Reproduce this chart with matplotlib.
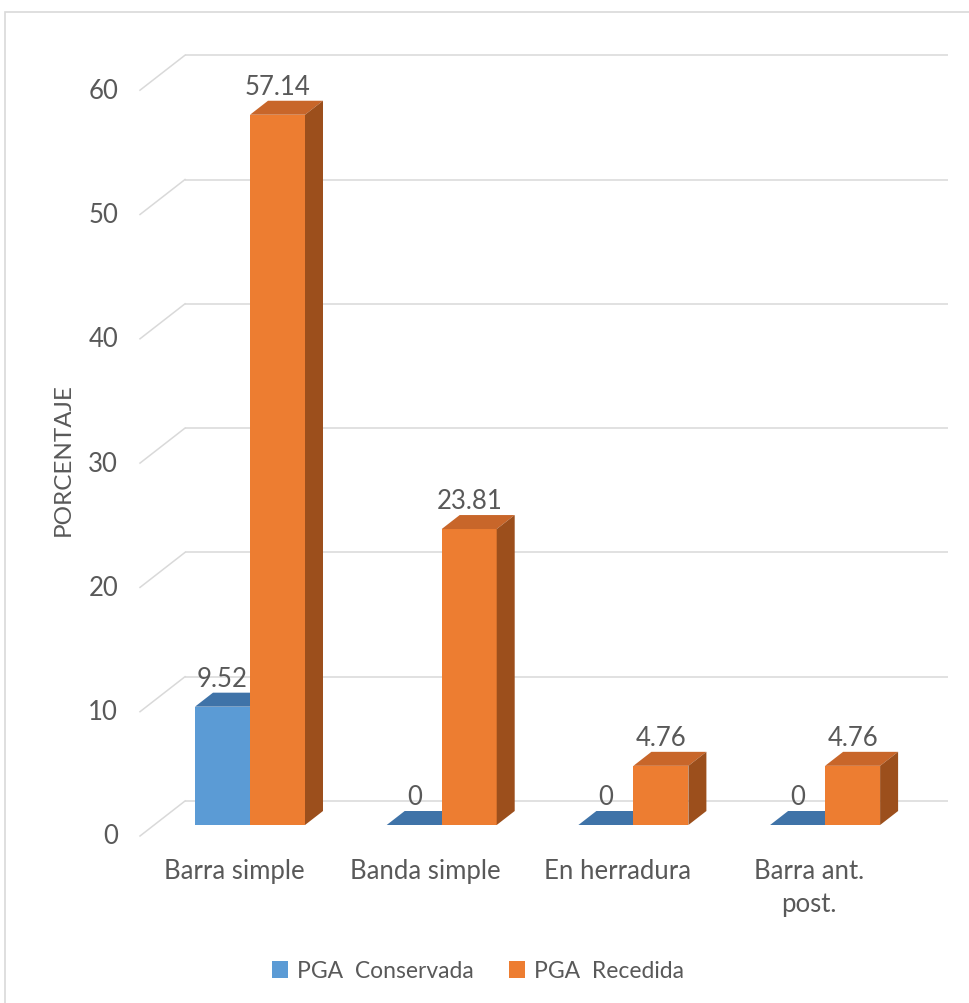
import matplotlib
matplotlib.use("Agg")
import matplotlib.pyplot as plt
from matplotlib.patches import Polygon, Rectangle, Patch

plt.rcParams['font.family'] = ['Lato', 'DejaVu Sans']

categories = ['Barra simple', 'Banda simple', 'En herradura', 'Barra ant.\npost.']
conservada = [9.52, 0, 0, 0]
recedida = [57.14, 23.81, 4.76, 4.76]
series_names = ['PGA  Conservada', 'PGA  Recedida']
yticks = [0, 10, 20, 30, 40, 50, 60]

W, H = 970, 1004
TXT = '#595959'
GRID = '#d9d9d9'

# pixel layout of the bar front plane
X0_PX, PX_PER_CAT = 250.0, 191.7
Y0_PX, PX_PER_UNIT = 826.0, 12.43
XLIM = (-0.75, 3.75)
YLIM = (-6, 66)

def dx(px):
    return px / PX_PER_CAT

def dy(px):
    return px / PX_PER_UNIT

fig = plt.figure(figsize=(W / 100, H / 100), dpi=100)
left_px = X0_PX + XLIM[0] * PX_PER_CAT
right_px = X0_PX + XLIM[1] * PX_PER_CAT
bot_px = Y0_PX - YLIM[0] * PX_PER_UNIT
top_px = Y0_PX - YLIM[1] * PX_PER_UNIT
ax = fig.add_axes([left_px / W, 1 - bot_px / H,
                   (right_px - left_px) / W, (bot_px - top_px) / H])
ax.set_xlim(*XLIM)
ax.set_ylim(*YLIM)
ax.axis('off')

# outer chart border
fig.patches.append(Rectangle((5 / W, -0.01), 1.0, 1 - 13 / H + 0.01,
                             transform=fig.transFigure, fill=False,
                             edgecolor=GRID, lw=1.2))

# walls: back gridlines + side diagonals
bw_x, bw_y = dx(31), dy(24)      # back wall offset from bar plane
fw_x, fw_y = dx(-14), dy(-11)    # front edge offset
x_left_back = XLIM[0] + dx(185 - left_px)
x_right_back = XLIM[0] + dx(948 - left_px)
x_left_front = x_left_back - dx(45)
for v in yticks:
    ax.plot([x_left_back, x_right_back], [v + bw_y, v + bw_y],
            color=GRID, lw=1.1, zorder=1, solid_capstyle='butt')
    ax.plot([x_left_front, x_left_back], [v + fw_y, v + bw_y],
            color=GRID, lw=1.1, zorder=1)
    ax.text(x_left_front - dx(22), v + fw_y, str(v), ha='right', va='center',
            fontsize=18.5, color=TXT)

# 3D columns
depth_x, depth_y = dx(18), dy(14)
bw = dx(55)
styles = [
    dict(front='#5B9BD5', top='#3F73A8', side='#2E5B88'),
    dict(front='#ED7D31', top='#C8662A', side='#9C4F1C'),
]

def column(x0, h, st):
    x1 = x0 + bw
    ax.bar(x0, h, width=bw, align='edge', color=st['front'], lw=0, zorder=3)
    ax.add_patch(Polygon([(x0, h), (x1, h), (x1 + depth_x, h + depth_y),
                          (x0 + depth_x, h + depth_y)],
                         closed=True, facecolor=st['top'], lw=0, zorder=3))
    ax.add_patch(Polygon([(x1, 0), (x1, h), (x1 + depth_x, h + depth_y),
                          (x1 + depth_x, depth_y)],
                         closed=True, facecolor=st['side'], lw=0, zorder=3))
    lbl = f'{h:g}' if h != 0 else '0'
    ax.annotate(lbl, (x0 + bw / 2, h + depth_y), xytext=(0, 2),
                textcoords='offset pixels', ha='center', va='bottom',
                fontsize=18.5, color=TXT, zorder=5)

for i in range(len(categories)):
    column(i - bw, conservada[i], styles[0])
    column(i, recedida[i], styles[1])

for i, c in enumerate(categories):
    ax.text(i + fw_x - dx(2), fw_y - dy(22), c, ha='center', va='top',
            fontsize=18.5, color=TXT, linespacing=1.4)

fig.text(63 / W, 1 - 460 / H, 'PORCENTAJE', rotation=90, ha='center',
         va='center', fontsize=17.5, color=TXT)

handles = [Patch(facecolor=s['front'], lw=0) for s in styles]
fig.legend(handles, series_names, loc='center', bbox_to_anchor=(478 / W, 1 - 972 / H),
           ncol=2, frameon=False, fontsize=16.5, handlelength=0.7,
           handleheight=0.7, handletextpad=0.4, columnspacing=1.5,
           labelcolor=TXT)

fig.savefig('out.png', dpi=100, facecolor='white')
